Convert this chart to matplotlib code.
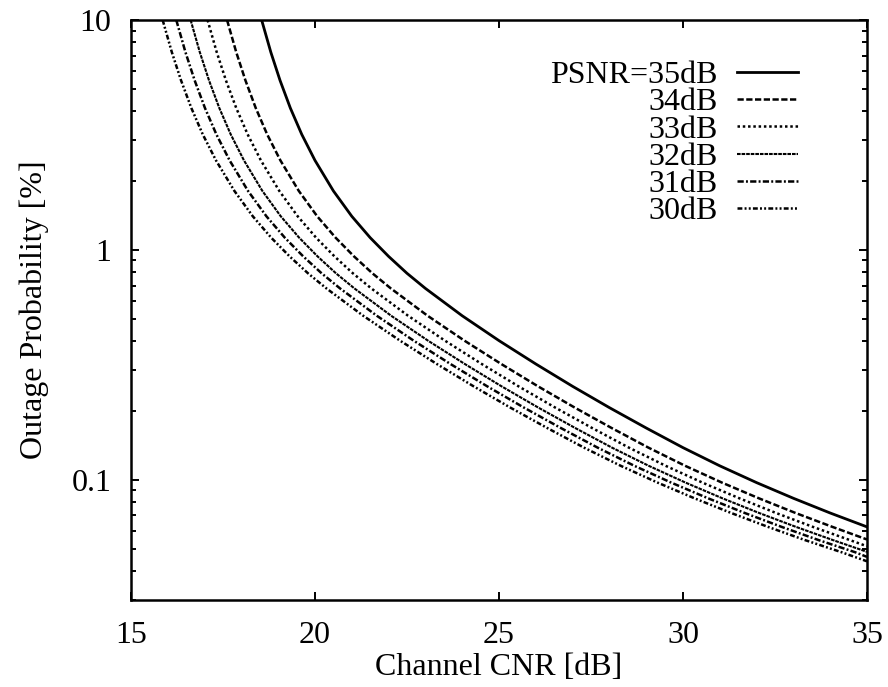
import matplotlib
matplotlib.use("Agg")
import matplotlib.pyplot as plt
from matplotlib.ticker import FixedLocator, FixedFormatter, LogLocator, NullFormatter

plt.rcParams['font.family'] = ['Liberation Serif', 'DejaVu Serif']
plt.rcParams['lines.scale_dashes'] = False

# ---- data ----
labels = ["PSNR=35dB", "34dB", "33dB", "32dB", "31dB", "30dB"]

cnr_35 = [18.55, 18.8, 19.05, 19.33, 19.64, 20.0, 20.5, 21.0, 21.5, 22.0, 22.5, 23.0, 24.0,
          25.0, 26.0, 27.0, 28.0, 29.0, 30.0, 31.0, 32.0, 33.0, 34.0, 35.0]
out_35 = [10.0, 7.24, 5.46, 4.14, 3.18, 2.45, 1.805, 1.40, 1.13, 0.937, 0.791, 0.680, 0.517,
          0.403, 0.319, 0.255, 0.206, 0.168, 0.138, 0.115, 0.0972, 0.0831, 0.0717, 0.0624]

cnr_34 = [17.61, 17.86, 18.11, 18.39, 18.70, 19.06, 19.56, 20.06, 20.56, 21.06, 21.56, 22.06, 23.06,
          24.06, 25.06, 26.06, 27.06, 28.06, 29.06, 30.06, 31.06, 32.06, 33.06, 34.06, 35.0]
out_34 = [10.0, 7.24, 5.46, 4.14, 3.18, 2.45, 1.805, 1.40, 1.13, 0.937, 0.791, 0.680, 0.517,
          0.403, 0.319, 0.255, 0.206, 0.168, 0.138, 0.115, 0.0972, 0.0831, 0.0717, 0.0624, 0.0550]

cnr_33 = [17.08, 17.33, 17.58, 17.86, 18.17, 18.53, 19.03, 19.53, 20.03, 20.53, 21.03, 21.53, 22.53,
          23.53, 24.53, 25.53, 26.53, 27.53, 28.53, 29.53, 30.53, 31.53, 32.53, 33.53, 34.53, 35.0]
out_33 = [10.0, 7.24, 5.46, 4.14, 3.18, 2.45, 1.805, 1.40, 1.13, 0.937, 0.791, 0.680, 0.517,
          0.403, 0.319, 0.255, 0.206, 0.168, 0.138, 0.115, 0.0972, 0.0831, 0.0717, 0.0624, 0.0547, 0.0514]

cnr_32 = [16.62, 16.87, 17.12, 17.40, 17.71, 18.07, 18.57, 19.07, 19.57, 20.07, 20.57, 21.07, 22.07,
          23.07, 24.07, 25.07, 26.07, 27.07, 28.07, 29.07, 30.07, 31.07, 32.07, 33.07, 34.07, 35.0]
out_32 = [10.0, 7.24, 5.46, 4.14, 3.18, 2.45, 1.805, 1.40, 1.13, 0.937, 0.791, 0.680, 0.517,
          0.403, 0.319, 0.255, 0.206, 0.168, 0.138, 0.115, 0.0972, 0.0831, 0.0717, 0.0624, 0.0547, 0.0486]

cnr_31 = [16.23, 16.48, 16.73, 17.01, 17.32, 17.68, 18.18, 18.68, 19.18, 19.68, 20.18, 20.68, 21.68,
          22.68, 23.68, 24.68, 25.68, 26.68, 27.68, 28.68, 29.68, 30.68, 31.68, 32.68, 33.68, 34.68, 35.0]
out_31 = [10.0, 7.24, 5.46, 4.14, 3.18, 2.45, 1.805, 1.40, 1.13, 0.937, 0.791, 0.680, 0.517,
          0.403, 0.319, 0.255, 0.206, 0.168, 0.138, 0.115, 0.0972, 0.0831, 0.0717, 0.0624, 0.0547, 0.0484, 0.0462]

cnr_30 = [15.86, 16.11, 16.36, 16.64, 16.95, 17.31, 17.81, 18.31, 18.81, 19.31, 19.81, 20.31, 21.31,
          22.31, 23.31, 24.31, 25.31, 26.31, 27.31, 28.31, 29.31, 30.31, 31.31, 32.31, 33.31, 34.31, 35.0]
out_30 = [10.0, 7.24, 5.46, 4.14, 3.18, 2.45, 1.805, 1.40, 1.13, 0.937, 0.791, 0.680, 0.517,
          0.403, 0.319, 0.255, 0.206, 0.168, 0.138, 0.115, 0.0972, 0.0831, 0.0717, 0.0624, 0.0547, 0.0484, 0.0442]

x_ticks = [15, 20, 25, 30, 35]
y_ticks = [0.1, 1, 10]
y_tick_labels = ["0.1", "1", "10"]

series = [(cnr_35, out_35), (cnr_34, out_34), (cnr_33, out_33),
          (cnr_32, out_32), (cnr_31, out_31), (cnr_30, out_30)]
styles = [
    dict(linestyle='-', linewidth=2.0),
    dict(linestyle=(0, (4.5, 1.8)), linewidth=1.8),
    dict(linestyle=(0, (1.8, 2.0)), linewidth=1.8),
    dict(linestyle=(0, (2.6, 0.7)), linewidth=1.5),
    dict(linestyle=(0, (4.5, 1.6, 1.4, 1.6)), linewidth=1.8),
    dict(linestyle=(0, (3.5, 1.6, 1.4, 1.6, 1.4, 1.6)), linewidth=1.8),
]

fig = plt.figure(figsize=(8.88, 6.87), dpi=100)
ax = fig.add_axes([131/888, 1-600/687, (867-131)/888, (600-20)/687])

for (xs, ys), lab, st in zip(series, labels, styles):
    ax.plot(xs, ys, color='black', label=lab, solid_joinstyle='round', **st)

ax.set_yscale('log')
ax.set_xlim(15, 35)
ax.set_ylim(0.03, 10)

ax.xaxis.set_major_locator(FixedLocator(x_ticks))
ax.yaxis.set_major_locator(FixedLocator(y_ticks))
ax.yaxis.set_major_formatter(FixedFormatter(y_tick_labels))
ax.yaxis.set_minor_locator(LogLocator(base=10, subs=range(2, 10), numticks=20))
ax.yaxis.set_minor_formatter(NullFormatter())

fs = 23
ax.tick_params(which='both', direction='in', top=True, right=True, width=1.4)
ax.tick_params(which='major', length=6, labelsize=fs)
ax.tick_params(axis='x', which='major', pad=15)
ax.tick_params(axis='y', which='major', pad=14)
ax.tick_params(which='minor', length=3.5)
for s in ax.spines.values():
    s.set_linewidth(1.8)

ax.set_xlabel("Channel CNR [dB]", fontsize=fs, labelpad=2)
ax.set_ylabel("Outage Probability [%]", fontsize=fs, labelpad=16)

leg = ax.legend(loc='upper right', bbox_to_anchor=((798-131)/736, 1-(61-20)/580),
                frameon=False, markerfirst=False, fontsize=fs,
                handlelength=1.9, handletextpad=0.62, labelspacing=-0.07,
                borderpad=0, borderaxespad=0)

fig.savefig("out.png", dpi=100)
